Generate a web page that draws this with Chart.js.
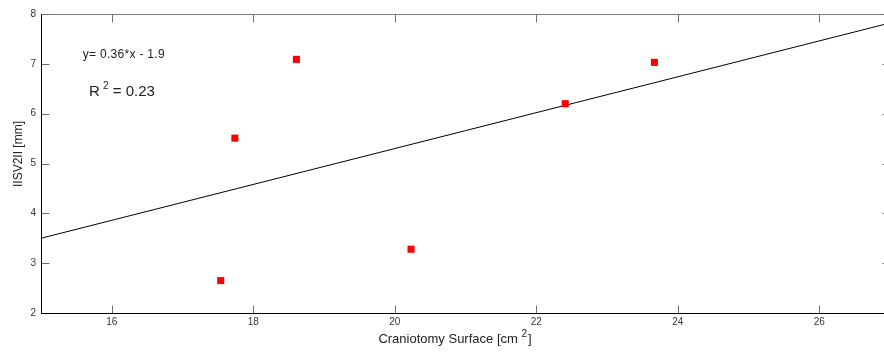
<!DOCTYPE html>
<html><head><meta charset="utf-8">
<script src="https://cdn.jsdelivr.net/npm/chart.js@4/dist/chart.umd.min.js"></script>
<style>html,body{margin:0;padding:0;background:#fff;overflow:hidden}#wrap{width:884px;height:352px;overflow:hidden}</style>
</head><body><div id="wrap"><canvas id="c" width="895" height="352"></canvas></div>
<script>
// Craniotomy surface (cm²) against ||SV2|| (mm), with linear fit
const surface = [17.54, 17.74, 18.61, 20.23, 22.41, 23.67];
const sv2 = [2.65, 5.51, 7.09, 3.28, 6.20, 7.03];
const xTicks = [16, 18, 20, 22, 24, 26];
const yTicks = [2, 3, 4, 5, 6, 7, 8];
const xRange = [15, 27];
const yRange = [2, 8];
const fitSlope = 0.36;
const fitIntercept = -1.9;
const rSquared = 0.23;

const FONT = '"Liberation Sans", Arial, sans-serif';

const points = surface.map((x, i) => ({ x, y: sv2[i] }));
const fitLine = xRange.map(x => ({ x, y: fitSlope * x + fitIntercept }));

// frame, inward ticks and text labels in the MATLAB figure style
const framePlugin = {
  id: 'frame',
  afterDraw(chart) {
    const { ctx, chartArea: a, scales } = chart;
    const xs = scales.x, ys = scales.y;
    const L = Math.round(a.left) + 0.5, R = Math.round(a.right) + 0.5;
    const T = Math.round(a.top) + 0.5, B = Math.round(a.bottom) + 0.5;
    ctx.save();
    ctx.lineWidth = 1;
    // top and right border (gray)
    ctx.strokeStyle = '#7a7a7a';
    ctx.beginPath();
    ctx.moveTo(L, T); ctx.lineTo(R, T); ctx.lineTo(R, B);
    ctx.stroke();
    // inward ticks
    const tl = 8;
    ctx.strokeStyle = '#6f6f6f';
    ctx.beginPath();
    xs.ticks.forEach(t => {
      const px = Math.round(xs.getPixelForValue(t.value)) + 0.5;
      ctx.moveTo(px, B); ctx.lineTo(px, B - tl);
      ctx.moveTo(px, T); ctx.lineTo(px, T + tl);
    });
    ys.ticks.forEach(t => {
      const py = Math.round(ys.getPixelForValue(t.value)) + 0.5;
      ctx.moveTo(L, py); ctx.lineTo(L + tl, py);
      ctx.moveTo(R, py); ctx.lineTo(R - tl, py);
    });
    ctx.stroke();
    // bottom and left axes (black)
    ctx.strokeStyle = '#000';
    ctx.beginPath();
    ctx.moveTo(L, T); ctx.lineTo(L, B); ctx.lineTo(R, B);
    ctx.stroke();

    ctx.fillStyle = '#222';
    ctx.textBaseline = 'alphabetic';
    // fit equation
    ctx.font = '12px ' + FONT;
    ctx.textAlign = 'left';
    ctx.letterSpacing = '0.3px';
    const eqX = xs.getPixelForValue(15.59), eqY = ys.getPixelForValue(7.11);
    ctx.fillText('y= ' + fitSlope.toFixed(2) + '*x - ' + Math.abs(fitIntercept).toFixed(1), eqX, eqY);
    ctx.letterSpacing = '0px';
    // R squared
    const rX = xs.getPixelForValue(15.68), rY = ys.getPixelForValue(6.35);
    ctx.font = '15px ' + FONT;
    ctx.fillText('R', rX, rY);
    let w = ctx.measureText('R ').width;
    ctx.font = '10px ' + FONT;
    ctx.fillText('2', rX + w - 1, rY - 7);
    w += ctx.measureText('2').width + 1;
    ctx.font = '15px ' + FONT;
    ctx.fillText(' = ' + rSquared.toFixed(2), rX + w - 2, rY);

    // x axis title with superscript
    ctx.font = '13px ' + FONT;
    const t1 = 'Craniotomy Surface [cm ';
    const w1 = ctx.measureText(t1).width;
    ctx.font = '10px ' + FONT;
    const w2 = ctx.measureText('2').width;
    ctx.font = '13px ' + FONT;
    const w3 = ctx.measureText(']').width;
    const total = w1 + w2 + w3 + 1;
    let sx = 455 - total / 2;
    const by = 343;
    ctx.fillText(t1, sx, by);
    ctx.font = '10px ' + FONT;
    ctx.fillText('2', sx + w1, by - 6);
    ctx.font = '13px ' + FONT;
    ctx.fillText(']', sx + w1 + w2 + 1, by);

    // y axis title
    ctx.save();
    ctx.translate(22, 154);
    ctx.rotate(-Math.PI / 2);
    ctx.textAlign = 'center';
    ctx.font = '12px ' + FONT;
    ctx.fillText('IISV2II [mm]', 0, 0);
    ctx.restore();
    ctx.restore();
  }
};

new Chart(document.getElementById('c'), {
  type: 'scatter',
  data: {
    datasets: [
      {
        type: 'line',
        data: fitLine,
        borderColor: '#000',
        borderWidth: 1,
        pointRadius: 0,
        fill: false,
        order: 2
      },
      {
        data: points,
        pointStyle: 'rect',
        pointRadius: 5,
        pointHoverRadius: 5,
        backgroundColor: '#ff0000',
        borderWidth: 0,
        order: 1
      }
    ]
  },
  options: {
    responsive: false,
    animation: false,
    devicePixelRatio: 1,
    layout: { padding: { left: 0, top: 14, right: 3, bottom: 0 } },
    plugins: { legend: { display: false }, tooltip: { enabled: false } },
    scales: {
      x: {
        type: 'linear',
        min: xRange[0], max: xRange[1],
        afterBuildTicks: s => { s.ticks = xTicks.map(v => ({ value: v })); },
        afterFit: s => { s.height = 39; },
        grid: { display: false, drawTicks: false },
        border: { display: false },
        ticks: { font: { family: FONT, size: 10 }, color: '#333', padding: 3, maxRotation: 0 }
      },
      y: {
        type: 'linear',
        min: yRange[0], max: yRange[1],
        afterBuildTicks: s => { s.ticks = yTicks.map(v => ({ value: v })); },
        afterFit: s => { s.width = 41; },
        grid: { display: false, drawTicks: false },
        border: { display: false },
        ticks: { font: { family: FONT, size: 10 }, color: '#333', padding: 5 }
      }
    }
  },
  plugins: [framePlugin]
});
</script>
</body></html>
